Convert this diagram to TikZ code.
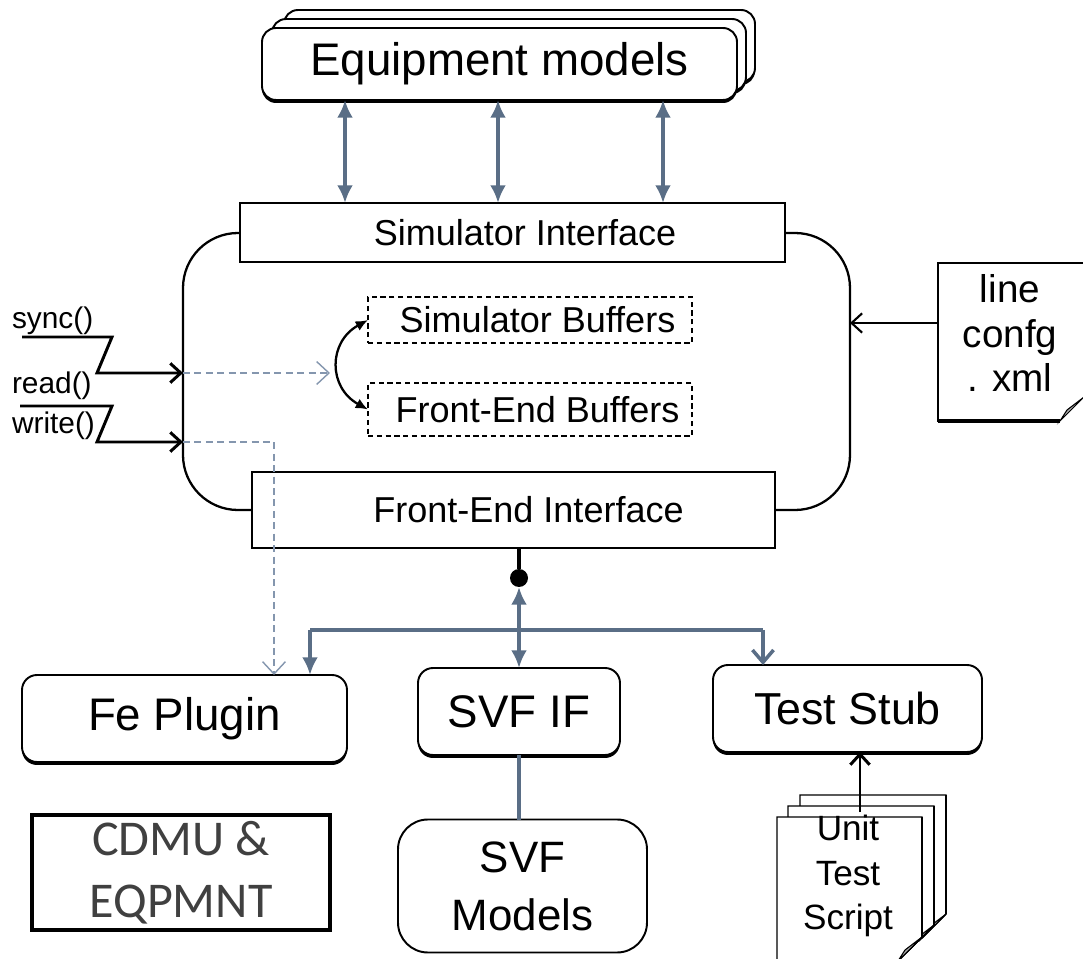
\documentclass[tikz,border=0pt]{standalone}
\usepackage{fontspec}
\setmainfont{Liberation Sans}
\newfontfamily\calibri{Carlito}
\usetikzlibrary{arrows.meta,shadows,calc}

\definecolor{slate}{HTML}{5A6E86}
\definecolor{dashgray}{HTML}{8496AE}
\definecolor{ink}{HTML}{404040}
\definecolor{foldgray}{HTML}{A8A8A8}

\def\pxu{0.02cm}

\begin{document}
\begin{tikzpicture}[x=0.02cm,y=-0.02cm,
  every node/.style={inner sep=0pt, outer sep=0pt},
  sz/.style 2 args={minimum width=#1*\pxu, minimum height=#2*\pxu},
  modbox/.style={draw=black, line width=1.1pt, fill=white, rounded corners=0.28cm,
    general shadow={fill=black, shadow yshift=-0.06cm}},
  ifbox/.style={draw=black, line width=1.6pt, fill=white},
  bufbox/.style={draw=black, line width=0.7pt, dashed, dash pattern=on 3pt off 2pt},
  biarrow/.style={draw=slate, line width=2pt, {Latex[length=10pt,width=9pt]}-{Latex[length=10pt,width=9pt]}},
  slateline/.style={draw=slate, line width=2pt},
  calllink/.style={line width=1.7pt, line join=miter},
  barb/.style={-{Straight Barb[length=6pt,width=11pt]}},
  dashlink/.style={draw=dashgray, line width=0.8pt, dash pattern=on 4pt off 2.5pt},
  docpage/.style={draw=black, line width=0.8pt, fill=white},
  fold/.style={draw=black, line width=0.6pt, fill=foldgray},
  fbig/.style={font=\fontsize{26}{30}\selectfont},
  fmid/.style={font=\fontsize{20.5}{24}\selectfont},
  fcall/.style={font=\fontsize{17}{18}\selectfont},
]
\useasboundingbox (0,0) rectangle (1083,959);

% --- stacked equipment models ---
\draw[modbox] (284,10) rectangle (755,82);
\draw[modbox] (272,19) rectangle (746,91);
\node[modbox, sz={475}{72}, fbig] (equip) at (499.5,64) {Equipment models};

% --- interface frame and its two interface boxes ---
\node[draw=black, line width=1.3pt, rounded corners=1.1cm, sz={667}{277}] (frame) at (516.5,371.5) {};
\node[ifbox, sz={545}{59}, fmid] (simif) at (512.5,232.5) {\hspace*{0.5cm}Simulator Interface};
\node[ifbox, sz={523}{76}, fmid] (feif) at (513.5,510) {\hspace*{0.6cm}Front-End Interface};

\foreach \xx in {345,498,663}
  \draw[biarrow] (equip.south -| \xx,0) -- (simif.north -| \xx,0);

% --- buffers ---
\node[bufbox, sz={324}{46}, fmid] (sbuf) at (530,320) {\hspace*{0.3cm}Simulator Buffers};
\node[bufbox, sz={324}{53}, fmid] (fbuf) at (530,409.5) {\hspace*{0.3cm}Front-End Buffers};
\draw[line width=1.3pt, {Latex[length=7pt,width=6pt]}-{Latex[length=7pt,width=6pt]}]
  (sbuf.west) .. controls +(-40,22) and +(-40,-22) .. (fbuf.west);

% --- sync / read / write calls ---
\node[fcall, anchor=west] (sync) at (12,321) {sync()};
\node[fcall, anchor=west] (read) at (12,386) {read()};
\node[fcall, anchor=west] (write) at (12,426) {write()};
\coordinate (syncA) at (22,337);
\coordinate (syncB) at (112,337);
\coordinate (syncC) at (97,373);
\coordinate (rwA) at (20,406);
\coordinate (rwB) at (112,406);
\coordinate (rwC) at (97,442);
\draw[calllink, barb] (syncA) -- (syncB) -- (syncC) -- (frame.west |- syncC);
\draw[calllink, barb] (rwA) -- (rwB) -- (rwC) -- (frame.west |- rwC);

\coordinate (syncEnd) at (330,373);
\draw[dashlink, -{Straight Barb[length=7pt,width=13pt]}] (frame.west |- syncC) -- (syncEnd);

% --- lower row of components ---
\node[modbox, rounded corners=0.3cm, sz={325}{87}, fbig] (fe) at (184.5,718.5) {Fe Plugin};
\node[modbox, rounded corners=0.3cm, sz={202}{87}, fbig] (svfif) at (519,711.5) {SVF IF};
\node[modbox, rounded corners=0.3cm, sz={269}{87}, font=\fontsize{25.5}{30}\selectfont] (ts) at (847.5,708.5) {Test Stub};
\node[draw=black, line width=1.1pt, fill=white, rounded corners=0.6cm, sz={249}{133},
      align=center, font=\fontsize{25}{33}\selectfont] (svfm) at (522.5,886) {SVF\\Models};
\node[draw=black, line width=2.2pt, sz={298}{115}, align=center, text=ink,
      font=\calibri\fontsize{28.5}{35}\selectfont] (cdmu) at (181,872.5) {CDMU \&\\EQPMNT};

\draw[dashlink, -{Straight Barb[length=7pt,width=13pt]}] (frame.west |- rwC) -| (fe.north -| 274,0);

% --- front-end distribution ---
\node[circle, fill=black, minimum size=18*\pxu] (dot) at (519,578) {};
\draw[line width=2pt] (feif.south -| dot) -- (dot);
\draw[biarrow] (dot.south) -- (svfif.north);
\coordinate (jl) at (310,630);
\coordinate (jr) at (763,630);
\draw[slateline] (jl) -- (jr);
\draw[slateline, -{Latex[length=10pt,width=9pt]}] (jl) -- (fe.north -| jl);
\draw[slateline, -{Straight Barb[length=7pt,width=12pt]}] (jr) -- (ts.north -| jr);
\draw[slateline] (svfif.south) -- (svfm.north -| svfif.south);

% --- line config document ---
\node[sz={146}{158}] (cfg) at (1011,342) {};
\draw[line width=0.8pt] ($(cfg.south east)+(0,-24)$) -- (cfg.north east) -- (cfg.north west)
  -- (cfg.south west) -- ($(cfg.south east)+(-24,0)$);
\draw[line width=2pt] (cfg.south west) -- ($(cfg.south east)+(-24,0)$);
\draw[fold] ($(cfg.south east)+(0,-24)$) -- ($(cfg.south east)+(-24,0)$) -- ($(cfg.south east)+(-17,-11)$) -- cycle;
\node[align=center, font=\fontsize{22}{25.5}\selectfont] (cfgtext) at (1010,333) {line\\confg\\. xml};
\draw[line width=1.2pt, barb] (cfg.west |- 0,323) -- (frame.east |- 0,323);

% --- stacked unit test scripts ---
\foreach \l/\t/\r/\b in {800/795/946/938, 788/806/934/949, 777/817/922/961}{
  \draw[docpage] (\l,\t) -- (\r,\t) -- (\r,\b-24) -- (\r-24,\b) -- (\l,\b) -- cycle;
  \draw[line width=1.6pt] (\r,\t) -- (\r,\b-24);
  \draw[fold] (\r,\b-24) -- (\r-24,\b) -- (\r-17,\b-11) -- cycle;
}
\node[align=center, font=\fontsize{20}{25.5}\selectfont] (uts) at (848,876) {Unit\\Test\\Script};
\coordinate (utsTop) at (860,812);
\draw[line width=1.7pt, -{Straight Barb[length=6pt,width=11pt]}] (utsTop) -- (ts.south -| utsTop);

\end{tikzpicture}
\end{document}
